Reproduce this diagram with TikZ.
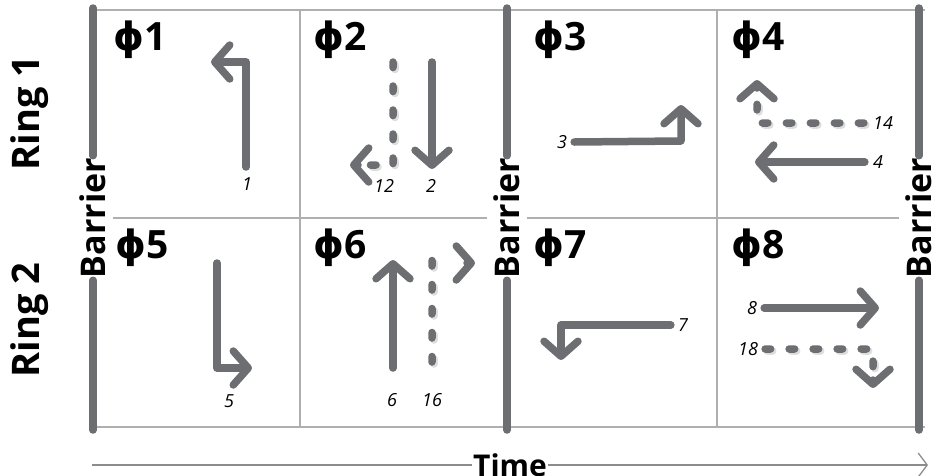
\documentclass[tikz,border=0pt]{standalone}
\usepackage{fontspec}
\setmainfont{Open Sans}
\newfontfamily\phifont{DejaVu Sans}
\usetikzlibrary{arrows.meta,decorations.markings}
\definecolor{mvgray}{RGB}{109,110,113}
\definecolor{shgray}{RGB}{222,222,222}
\definecolor{gridgray}{RGB}{175,175,175}

\tikzset{
	shadowed/.style={preaction={draw=shgray, transform canvas={shift={(2pt,-2pt)}}}},
	mvt/.style={draw=mvgray, line width=7.5pt, line cap=round, line join=round, shadowed,
		-{Straight Barb[length=15pt,width=34pt,round]}},
	dashpc/.style={fill=mvgray, rounded corners=3.7pt,
		preaction={fill=shgray, transform canvas={shift={(2pt,-2pt)}}}},
	mvtdash/.style={decoration={markings,
			mark=between positions 0 and -26pt step 24pt with {\path[dashpc] (-3.75pt,-3.75pt) rectangle (9.25pt,3.75pt);},
			mark=at position 1 with {\draw[mvt] (-8pt,0pt) -- (0pt,0pt);}},
		postaction={decorate}},
	phase/.style={font=\fontsize{39}{39}\selectfont\bfseries, anchor=base west, inner sep=0pt},
	ring/.style={font=\fontsize{38}{38}\selectfont\bfseries, rotate=90},
	barlabel/.style={font=\fontsize{34}{34}\selectfont\bfseries, rotate=90, fill=white, inner xsep=2pt, inner ysep=7pt},
	barrier/.style={draw=mvgray, line width=7.5pt, line cap=round},
	cell/.style={draw=gridgray, line width=1.2pt},
	mvnum/.style={font=\fontsize{18}{18}\selectfont\itshape, inner sep=1pt},
	timeline/.style={draw=gridgray!80!black, line width=1.3pt}
}
\newcommand\phz[1]{{\phifont ϕ}#1}

\begin{document}
\begin{tikzpicture}[x=1pt, y=-1pt]
	\useasboundingbox (0,0) rectangle (935,475);

	% cells
	\draw[cell] (93,10) -- (925,10) (93,427) -- (925,427) (93,218) -- (925,218);
	\draw[cell] (300,10) -- (300,427) (717,10) -- (717,427);

	% barriers
	\foreach \bx/\nm in {93/b_l, 507/b_m, 919/b_r} {
		\node[barlabel] (\nm) at (\bx,218) {Barrier};
		\draw[barrier] (\bx,8) -- (\nm.east) (\nm.west) -- (\bx,430);
	}

	\node[ring] (r_1) at (30,113) {Ring 1};
	\node[ring] (r_2) at (30,320) {Ring 2};

	\node[phase] (p_1) at (113,50) {\phz{1}};
	\node[phase] (p_2) at (313,50) {\phz{2}};
	\node[phase] (p_3) at (533,50) {\phz{3}};
	\node[phase] (p_4) at (731,50) {\phz{4}};
	\node[phase] (p_5) at (115,258) {\phz{5}};
	\node[phase] (p_6) at (313,258) {\phz{6}};
	\node[phase] (p_7) at (533,258) {\phz{7}};
	\node[phase] (p_8) at (731,258) {\phz{8}};

	% movements
	\draw[mvt] (246,167) -- (246,62) -- (211,62);
	\node[mvnum] (m_1) at (247,184) {1};

	\draw[mvt] (432,62) -- (432,169);
	\path[mvtdash] (393,62) -- (393,165) -- (350,165);
	\node[mvnum] (m_12) at (384,186) {12};
	\node[mvnum] (m_2) at (431,186) {2};

	\node[mvnum] (m_3) at (562,142) {3};
	\draw[mvt] (m_3.east) ++(6,0) -- (681,141) -- (681,105);

	\node[mvnum] (m_4) at (878,162) {4};
	\node[mvnum] (m_14) at (883,123) {14};
	\draw[mvt] (m_4.west) ++(-7,0) -- (755,162);
	\path[mvtdash] (m_14.west) ++(-8,0) -- (757,123) -- (757,80);

	\draw[mvt] (217,263) -- (217,368) -- (252,368);
	\node[mvnum] (m_5) at (229,401) {5};

	\draw[mvt] (393,368) -- (393,260);
	\path[mvtdash] (432,362) -- (432,263) -- (475,263);
	\node[mvnum] (m_6) at (392,400) {6};
	\node[mvnum] (m_16) at (432,400) {16};

	\node[mvnum] (m_7) at (683,325) {7};
	\draw[mvt] (m_7.west) ++(-6,0) -- (561,325) -- (561,360);

	\node[mvnum] (m_8) at (752,308) {8};
	\node[mvnum] (m_18) at (748,349) {18};
	\draw[mvt] (m_8.east) ++(6,0) -- (879,308);
	\path[mvtdash] (m_18.east) ++(6,0) -- (873,349) -- (873,388);

	% time axis
	\node[font=\fontsize{30}{30}\selectfont\bfseries, fill=white, inner xsep=1pt, inner ysep=0pt] (time) at (510,465) {Time};
	\draw[timeline] (92,465) -- (time.west);
	\draw[timeline, -{Straight Barb[length=9pt,width=24pt]}] (time.east) -- (928,465);
\end{tikzpicture}
\end{document}
